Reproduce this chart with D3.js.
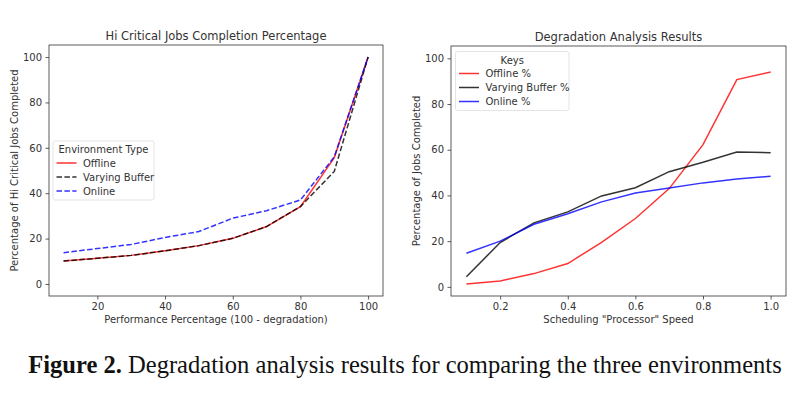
<!DOCTYPE html>
<html>
<head>
<meta charset="utf-8">
<script src="https://cdn.jsdelivr.net/npm/d3@7"></script>
<style>
  body { margin: 0; background: #fff; }
  svg { display: block; }
  text { font-family: "DejaVu Sans", sans-serif; fill: #333; }
</style>
</head>
<body>
<svg id="chart" width="800" height="405"></svg>
<script>
// left chart data
const perfPct = [10, 20, 30, 40, 50, 60, 70, 80, 90, 100];
const hiOffline = [10.1, 11.3, 12.6, 14.6, 16.9, 20.1, 25.3, 34.1, 55.7, 100];
const hiBuffer = [10.1, 11.3, 12.6, 14.6, 16.9, 20.1, 25.3, 34.1, 49.6, 100];
const hiOnline = [13.8, 15.6, 17.4, 20.5, 23.1, 29, 32.3, 37, 56, 100];
const leftXTicks = [20, 40, 60, 80, 100];
const leftYTicks = [0, 20, 40, 60, 80, 100];

// right chart data
const speed = [0.1, 0.2, 0.3, 0.4, 0.5, 0.6, 0.7, 0.8, 0.9, 1.0];
const degOffline = [1.2, 2.6, 5.8, 10.2, 19.5, 29.9, 43, 62.2, 90.7, 94];
const degBuffer = [4.4, 19.4, 28, 32.8, 39.8, 43.4, 50.4, 54.5, 59, 58.7];
const degOnline = [14.7, 20, 27.4, 32, 37.2, 41.1, 43.3, 45.5, 47.2, 48.4];
const rightXTicks = [0.2, 0.4, 0.6, 0.8, 1.0];
const rightYTicks = [0, 20, 40, 60, 80, 100];

const svg = d3.select("#chart");

function drawChart(cfg) {
    const g = svg.append("g");
    const x = d3.scaleLinear().domain(cfg.xDomain).range([cfg.left, cfg.right]);
    const y = d3.scaleLinear().domain(cfg.yDomain).range([cfg.bottom, cfg.top]);

    const xAxis = g.append("g")
        .attr("transform", `translate(0,${cfg.bottom})`)
        .call(d3.axisBottom(x).tickValues(cfg.xTicks).tickSize(3.5).tickPadding(3.5).tickFormat(cfg.xFormat));
    const yAxis = g.append("g")
        .attr("transform", `translate(${cfg.left},0)`)
        .call(d3.axisLeft(y).tickValues(cfg.yTicks).tickSize(3.5).tickPadding(3.5));
    [xAxis, yAxis].forEach(a => {
        a.select(".domain").remove();
        a.selectAll(".tick line").attr("stroke", "#333").attr("stroke-width", 0.8);
        a.selectAll(".tick text").attr("font-size", 10).attr("fill", "#333")
            .attr("font-family", "DejaVu Sans");
    });

    const line = d3.line().x((d, i) => x(cfg.xs[i])).y(d => y(d));
    cfg.series.forEach(s => {
        g.append("path")
            .datum(s.values)
            .attr("fill", "none")
            .attr("stroke", s.color)
            .attr("stroke-opacity", 0.8)
            .attr("stroke-width", 1.5)
            .attr("stroke-dasharray", s.dash || null)
            .attr("d", line);
    });

    g.append("rect")
        .attr("x", cfg.left).attr("y", cfg.top)
        .attr("width", cfg.right - cfg.left).attr("height", cfg.bottom - cfg.top)
        .attr("fill", "none").attr("stroke", "#333").attr("stroke-width", 0.8);

    g.append("text")
        .attr("x", (cfg.left + cfg.right) / 2).attr("y", cfg.top - 5)
        .attr("text-anchor", "middle").attr("font-size", 11.5)
        .text(cfg.title);
    g.append("text")
        .attr("x", (cfg.left + cfg.right) / 2).attr("y", cfg.bottom + 27)
        .attr("text-anchor", "middle").attr("font-size", 10)
        .text(cfg.xLabel);
    g.append("text")
        .attr("transform", `translate(${cfg.yLabelX},${(cfg.top + cfg.bottom) / 2}) rotate(-90)`)
        .attr("text-anchor", "middle").attr("font-size", 10)
        .text(cfg.yLabel);

    // legend
    const lg = g.append("g").attr("transform", `translate(${cfg.legend.x},${cfg.legend.y})`);
    lg.append("rect")
        .attr("width", cfg.legend.w).attr("height", 59)
        .attr("rx", 2)
        .attr("fill", "#fff").attr("fill-opacity", 0.8)
        .attr("stroke", "#ddd").attr("stroke-width", 0.8);
    lg.append("text")
        .attr("x", cfg.legend.w / 2).attr("y", 12)
        .attr("text-anchor", "middle").attr("font-size", 10)
        .text(cfg.legend.title);
    cfg.series.forEach((s, i) => {
        const yy = 22 + i * 14;
        lg.append("line")
            .attr("x1", 3.5).attr("x2", 23.5).attr("y1", yy).attr("y2", yy)
            .attr("stroke", s.color).attr("stroke-opacity", 0.8)
            .attr("stroke-width", 1.5)
            .attr("stroke-dasharray", s.dash || null);
        lg.append("text")
            .attr("x", 30).attr("y", yy + 3.5)
            .attr("font-size", 10)
            .text(s.name);
    });
}

drawChart({
    left: 49, right: 383, top: 45, bottom: 296,
    xDomain: [5.7, 104.4], yDomain: [-5.3, 105.3],
    xTicks: leftXTicks, yTicks: leftYTicks, xFormat: d3.format("d"),
    xs: perfPct,
    title: "Hi Critical Jobs Completion Percentage",
    xLabel: "Performance Percentage (100 - degradation)",
    yLabel: "Percentage of Hi Critical Jobs Completed",
    yLabelX: 18,
    legend: { x: 53, y: 141, w: 101, title: "Environment Type" },
    series: [
        { name: "Offline", values: hiOffline, color: "#ff0000" },
        { name: "Varying Buffer", values: hiBuffer, color: "#000000", dash: "5.5,2.4" },
        { name: "Online", values: hiOnline, color: "#0000ff", dash: "5.5,2.4" }
    ]
});

drawChart({
    left: 451, right: 786, top: 46, bottom: 296,
    xDomain: [0.0545, 1.0455], yDomain: [-4, 105.4],
    xTicks: rightXTicks, yTicks: rightYTicks, xFormat: d3.format(".1f"),
    xs: speed,
    title: "Degradation Analysis Results",
    xLabel: "Scheduling \"Processor\" Speed",
    yLabel: "Percentage of Jobs Completed",
    yLabelX: 420,
    legend: { x: 455.5, y: 51.5, w: 113.5, title: "Keys" },
    series: [
        { name: "Offline %", values: degOffline, color: "#ff0000" },
        { name: "Varying Buffer %", values: degBuffer, color: "#000000" },
        { name: "Online %", values: degOnline, color: "#0000ff" }
    ]
});

// caption
const cap = svg.append("text")
    .attr("x", 405).attr("y", 373)
    .attr("text-anchor", "middle")
    .style("font-family", "'Liberation Serif', serif")
    .style("fill", "#111")
    .attr("font-size", 23);
cap.append("tspan").attr("font-weight", "bold").text("Figure 2.");
cap.append("tspan").text(" Degradation analysis results for comparing the three environments");
const w = cap.node().getComputedTextLength();
cap.attr("font-size", 23 * 754 / w);
</script>
</body>
</html>
